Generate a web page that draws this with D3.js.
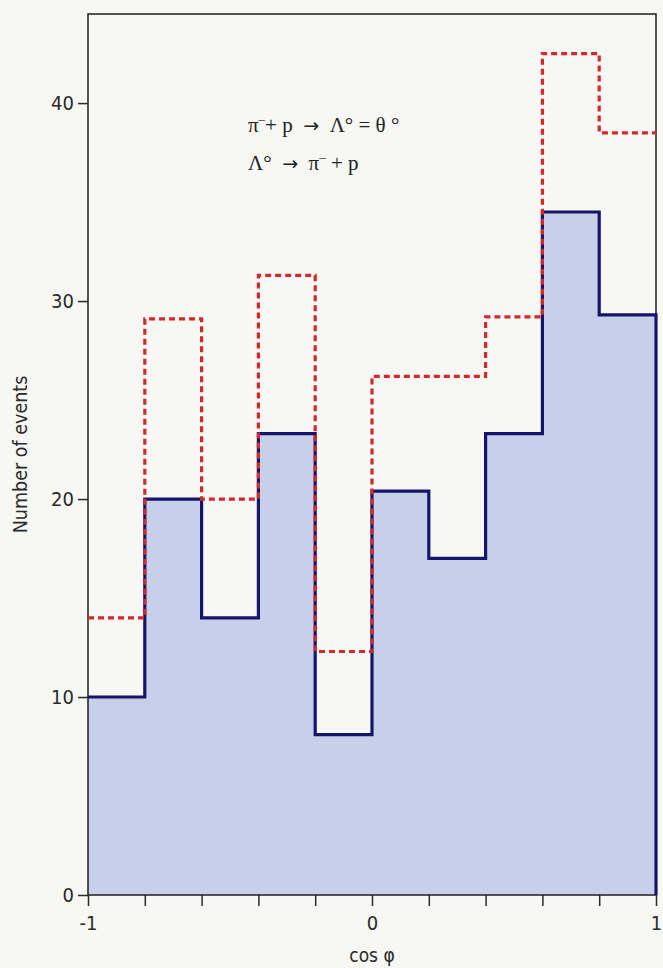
<!DOCTYPE html>
<html>
<head>
<meta charset="utf-8">
<script src="https://cdn.jsdelivr.net/npm/d3@7"></script>
<style>
  html, body { margin: 0; padding: 0; background: #f7f7f4; }
  svg { display: block; }
</style>
</head>
<body>
<div id="plot"></div>
<script>
// bins of cos(phi), left edges
const binStarts = [-1, -0.8, -0.6, -0.4, -0.2, 0, 0.2, 0.4, 0.6, 0.8];
const binEnd = 1;

// observed events (filled, navy outline)
const observed = [10, 20, 14, 23.3, 8.1, 20.4, 17, 23.3, 34.5, 29.3];
// dashed red histogram
const dashed = [14, 29.1, 20, 31.3, 12.3, 26.2, 26.2, 29.2, 42.5, 38.5];

const yTicks = [0, 10, 20, 30, 40];
const xTicks = [-1, -0.8, -0.6, -0.4, -0.2, 0, 0.2, 0.4, 0.6, 0.8, 1];
const xLabels = {"-1": "-1", "0": "0", "1": "1"};

const width = 663, height = 968;
const margin = {top: 14, right: 7, bottom: 73, left: 88};

const svg = d3.select("#plot").append("svg")
  .attr("width", width)
  .attr("height", height);

const x = d3.scaleLinear([-1, 1], [margin.left, width - margin.right]);
const y = d3.scaleLinear([0, 44.5], [height - margin.bottom, margin.top]);

const font = "'Liberation Sans Narrow', 'DejaVu Sans Condensed', 'Liberation Sans', sans-serif";

// step points: one per bin start + closing point at the right edge
const steps = vals => binStarts.map((b, i) => [b, vals[i]]).concat([[binEnd, vals[vals.length - 1]]]);

// blue fill
const area = d3.area()
  .x(d => x(d[0]))
  .y0(y(0))
  .y1(d => y(d[1]))
  .curve(d3.curveStepAfter);
svg.append("path")
  .datum(steps(observed))
  .attr("d", area)
  .attr("fill", "#c6d1e9");

// frame
svg.append("rect")
  .attr("x", x(-1))
  .attr("y", y(44.5))
  .attr("width", x(1) - x(-1))
  .attr("height", y(0) - y(44.5))
  .attr("fill", "none")
  .attr("stroke", "#2a2a2a")
  .attr("stroke-width", 1.6);

const line = d3.line()
  .x(d => x(d[0]))
  .y(d => y(d[1]))
  .curve(d3.curveStepAfter);

// navy outline, ending down the right edge
svg.append("path")
  .datum(steps(observed).concat([[binEnd, 0]]))
  .attr("d", line)
  .attr("fill", "none")
  .attr("stroke", "#15166b")
  .attr("stroke-width", 3.2);

// red dashed histogram on top
svg.append("path")
  .datum(steps(dashed))
  .attr("d", line)
  .attr("fill", "none")
  .attr("stroke", "#d22a2b")
  .attr("stroke-width", 3.2)
  .attr("stroke-dasharray", "6,4");

// axes
const yAxis = d3.axisLeft(y)
  .tickValues(yTicks)
  .tickSize(10)
  .tickPadding(4)
  .tickFormat(d3.format("d"));
const gy = svg.append("g")
  .attr("transform", `translate(${x(-1)},0)`)
  .call(yAxis);
gy.select(".domain").remove();
gy.selectAll("line").attr("stroke", "#2a2a2a").attr("stroke-width", 1.5);
gy.selectAll("text")
  .attr("font-family", font)
  .attr("font-size", 20)
  .attr("fill", "#2a2a2a");

const xAxis = d3.axisBottom(x)
  .tickValues(xTicks)
  .tickSize(11)
  .tickPadding(10)
  .tickFormat(d => xLabels[String(Math.round(d * 10) / 10)] || "");
const gx = svg.append("g")
  .attr("transform", `translate(0,${y(0)})`)
  .call(xAxis);
gx.select(".domain").remove();
gx.selectAll("line").attr("stroke", "#2a2a2a").attr("stroke-width", 1.5);
gx.selectAll("text")
  .attr("font-family", font)
  .attr("font-size", 20)
  .attr("fill", "#2a2a2a");

// axis titles
svg.append("text")
  .attr("x", (x(-1) + x(1)) / 2)
  .attr("y", 962)
  .attr("text-anchor", "middle")
  .attr("font-family", font)
  .attr("font-size", 19)
  .attr("fill", "#2a2a2a")
  .text("cos \u03c6");

svg.append("text")
  .attr("transform", `translate(27,${(y(0) + y(44.5)) / 2}) rotate(-90)`)
  .attr("text-anchor", "middle")
  .attr("font-family", font)
  .attr("font-size", 19.5)
  .attr("fill", "#2a2a2a")
  .text("Number of events");

// reaction labels (en spaces so the gaps round the arrows survive)
const serif = "'Liberation Serif', 'DejaVu Serif', serif";
const arrowFont = "'DejaVu Sans', sans-serif";
const r1 = svg.append("text")
  .attr("x", 248).attr("y", 132)
  .attr("font-family", serif).attr("font-size", 21).attr("fill", "#222");
r1.append("tspan").text("\u03c0");
r1.append("tspan").attr("dy", -9).attr("font-size", 13).text("\u2013");
r1.append("tspan").attr("dy", 9).text("+ p\u2002");
r1.append("tspan").attr("font-family", arrowFont).attr("font-size", 19).text("\u2192");
r1.append("tspan").text("\u2002\u039b\u00b0 = \u03b8 \u00b0");

const r2 = svg.append("text")
  .attr("x", 248).attr("y", 170)
  .attr("font-family", serif).attr("font-size", 21).attr("fill", "#222");
r2.append("tspan").text("\u039b\u00b0\u2002");
r2.append("tspan").attr("font-family", arrowFont).attr("font-size", 19).text("\u2192");
r2.append("tspan").text("\u2002\u03c0");
r2.append("tspan").attr("dy", -9).attr("font-size", 13).text("\u2013");
r2.append("tspan").attr("dy", 9).text(" + p");
</script>
</body>
</html>
